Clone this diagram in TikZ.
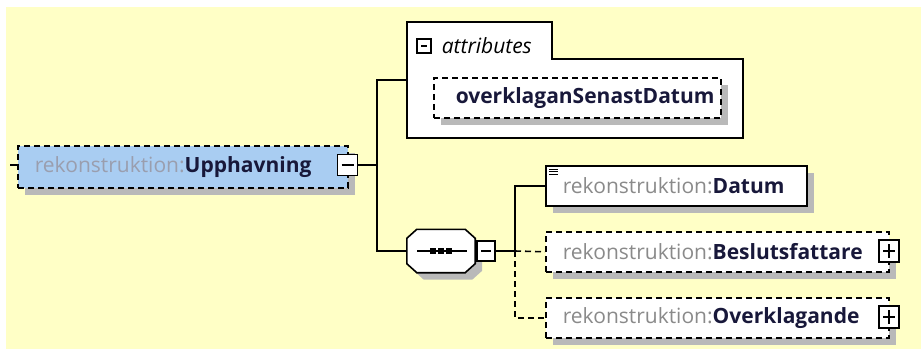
\documentclass[tikz,border=0pt]{standalone}
\usepackage{fontspec}
\setmainfont{Open Sans}
\usetikzlibrary{shapes.misc,positioning,shadows,calc}
\definecolor{paper}{HTML}{FFFFC6}
\definecolor{elemblue}{HTML}{A9CDF2}
\definecolor{shadowgray}{HTML}{B9B9B9}
\definecolor{prefixgray}{HTML}{8A8A8A}
\definecolor{rootprefix}{HTML}{9A9EAE}
\definecolor{namedark}{HTML}{18183A}
\newcommand\elemfont{\fontsize{21}{24}\selectfont}
\newcommand\pfx[1]{\textcolor{prefixgray}{#1}}
\newcommand\nm[1]{\textcolor{namedark}{\bfseries #1}}

\begin{document}
\begin{tikzpicture}[x=1pt, y=-1pt,
    elem/.style={rectangle, draw, line width=1.6pt, anchor=north west, fill=white, inner xsep=17pt, inner ysep=0pt, align=left, font=\elemfont, general shadow={fill=shadowgray, shadow xshift=7pt, shadow yshift=-7pt}},
    optelem/.style={elem, dash pattern=on 6pt off 4pt},
    attrbox/.style={draw, line width=1.6pt, fill=white},
    seqhold/.style={rectangle, minimum width=68pt, minimum height=43pt, inner sep=0pt},
    seqline/.style={draw, line width=1.6pt, fill=white, general shadow={fill=shadowgray, shadow xshift=7pt, shadow yshift=-7pt}},
    collapse/.style={rectangle, draw, line width=1.5pt, fill=white, minimum width=20pt, minimum height=21pt, inner sep=0pt, path picture={\draw[line width=1.5pt] ([xshift=4pt]path picture bounding box.west) -- ([xshift=-4pt]path picture bounding box.east);}},
    expand/.style={rectangle, draw, line width=1.5pt, fill=white, minimum width=20pt, minimum height=22pt, inner sep=0pt, path picture={\draw[line width=1.5pt] ([xshift=4pt]path picture bounding box.west) -- ([xshift=-4pt]path picture bounding box.east) ([yshift=-4pt]path picture bounding box.north) -- ([yshift=4pt]path picture bounding box.south);}},
    link/.style={line width=1.6pt},
    optlink/.style={link, dash pattern=on 6pt off 4pt},
]
\useasboundingbox (0,0) rectangle (921,349);
\fill[paper] (6,7) rectangle (921,349);

% ---- root element with its toggle ----
\node[optelem, fill=elemblue, minimum height=42pt, text width=296pt] (root) at (17,145) {\mbox{\textcolor{rootprefix}{rekonstruktion:}\nm{Upphavning}}};
\node[collapse] (rootToggle) at (347.5,165) {};
\coordinate (rootStub) at (10,165);
\draw[link] (rootStub) -- (root.west |- rootStub);
\coordinate (rootFork) at (377,165);
\draw[link] (rootToggle.east) -- (rootFork);

% ---- attributes group ----
\draw[attrbox] (407,59) |- (552,22) |- (743,59) |- (407,138) -- cycle;
\node[collapse, minimum width=14pt, minimum height=14pt, line width=1.2pt] (attrToggle) at (424,46) {};
\node[font=\elemfont\itshape, anchor=west, inner sep=0pt, right=10pt of attrToggle] (attrTitle) {attributes};
\node[optelem, minimum height=40pt, inner xsep=22pt, text width=243pt] (senast) at (433,77) {\mbox{\nm{overklaganSenastDatum}}};
\coordinate (attrIn) at (407,80);
\draw[link] (attrIn) -| (rootFork);

% ---- sequence compositor ----
\node[seqhold] (seq) at (441,251) {};
\draw[seqline] ($(seq.north west)+(10,0)$) -- ($(seq.north east)+(-10,0)$) -- ($(seq.north east)+(0,9)$)
  -- ($(seq.south east)+(0,-9)$) -- ($(seq.south east)+(-10,0)$) -- ($(seq.south west)+(10,0)$)
  -- ($(seq.south west)+(0,-9)$) -- ($(seq.north west)+(0,9)$) -- cycle;
\draw[link] (rootFork) |- (seq.west);
\draw[line width=1.4pt] ($(seq.center)+(-24,0)$) -- ($(seq.center)+(26,0)$);
\foreach \dx in {-8,0,8}
  \fill ($(seq.center)+(\dx-3,-3)$) rectangle ++(6,6);
\node[collapse, minimum width=18pt, minimum height=20pt] (seqToggle) at (486,251) {};
\coordinate (seqFork) at (515,251);
\draw[link] (seqToggle.east) -- (seqFork);

% ---- child elements ----
\node[elem, minimum height=40pt, text width=227pt] (datum) at (545,165) {\mbox{\pfx{rekonstruktion:}\nm{Datum}}};
\foreach \i in {0,1,2}
  \draw[line width=0.9pt] ($(datum.north west)+(4,4+2.6*\i)$) -- ++(9,0);
\node[optelem, minimum height=40pt, text width=309pt] (beslut) at (545,231) {\mbox{\pfx{rekonstruktion:}\nm{Beslutsfattare}}};
\node[expand] (beslutToggle) at (889,251) {};
\node[optelem, minimum height=40pt, text width=309pt] (overkl) at (545,297) {\mbox{\pfx{rekonstruktion:}\nm{Overklagande}}};
\node[expand] (overklToggle) at (889,317) {};

\draw[link] (seqFork) |- (datum.west);
\draw[optlink] (seqFork) -- (beslut.west);
\draw[optlink] (seqFork) |- (overkl.west);

\end{tikzpicture}
\end{document}
